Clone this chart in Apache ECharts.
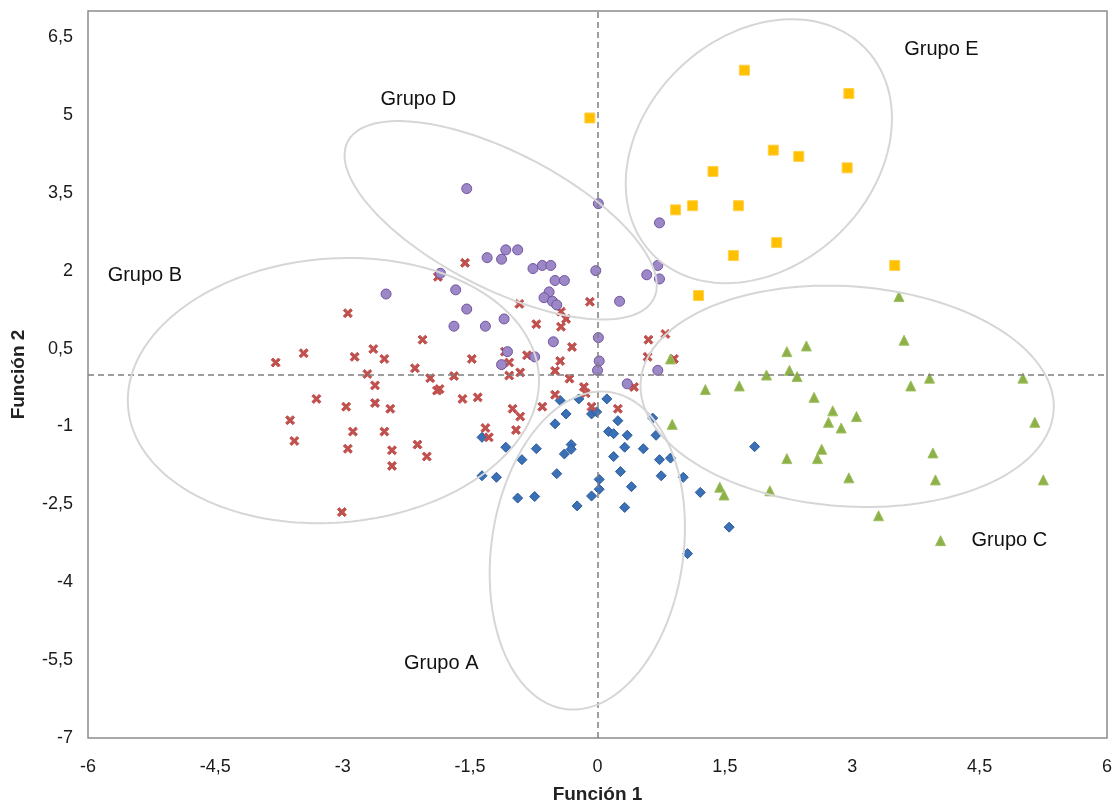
<!DOCTYPE html>
<html>
<head>
<meta charset="utf-8">
<script src="https://cdn.jsdelivr.net/npm/echarts@6/dist/echarts.min.js"></script>
<style>
html, body { margin: 0; padding: 0; background: #fff; }
#chart { width: 1113px; height: 803px; }
</style>
</head>
<body>
<div id="chart"></div>
<script>
// discriminant scores per group [Función 1, Función 2]
var grupoA = [
    [-0.44,-0.50],[-0.22,-0.47],[-0.37,-0.76],[-0.07,-0.76],[-0.01,-0.72],[-0.50,-0.95],
    [-1.36,-1.21],[-1.08,-1.40],[-0.72,-1.43],[-0.31,-1.35],[-0.31,-1.44],[-0.39,-1.53],
    [-0.89,-1.64],[-0.48,-1.91],[-1.36,-1.95],[-1.19,-1.98],[-0.94,-2.38],[-0.74,-2.35],
    [-0.24,-2.53],[-0.07,-2.34],[0.02,-2.02],[0.02,-2.21],[0.11,-0.47],[0.24,-0.89],
    [0.13,-1.10],[0.19,-1.14],[0.35,-1.17],[0.69,-1.17],[0.65,-0.84],[0.32,-1.40],
    [0.54,-1.43],[0.19,-1.58],[0.73,-1.64],[0.86,-1.61],[0.27,-1.87],[0.75,-1.95],
    [1.01,-1.98],[0.40,-2.16],[0.32,-2.56],[1.21,-2.27],[1.55,-2.94],[1.06,-3.45],
    [1.85,-1.39]
];
var grupoB = [
    [-3.79,0.23],[-3.46,0.41],[-2.94,1.18],[-3.62,-0.88],[-3.57,-1.28],[-3.31,-0.47],
    [-3.01,-2.65],[-2.96,-0.62],[-2.88,-1.10],[-2.94,-1.43],[-2.86,0.34],[-2.64,0.49],
    [-2.51,0.30],[-2.71,0.01],[-2.62,-0.21],[-2.62,-0.55],[-2.51,-1.10],[-2.44,-0.66],
    [-2.42,-1.46],[-2.42,-1.76],[-2.15,0.12],[-2.12,-1.35],[-2.01,-1.58],[-2.06,0.67],
    [-1.97,-0.07],[-1.89,-0.31],[-1.86,-0.28],[-1.88,1.88],[-1.69,-0.03],[-1.56,2.15],
    [-1.59,-0.47],[-1.41,-0.44],[-1.48,0.30],[-1.32,-1.03],[-1.28,-1.21],[-1.09,0.44],
    [-1.04,0.23],[-1.04,-0.02],[-1.00,-0.66],[-0.96,-1.07],[-0.91,-0.81],[-0.92,1.36],
    [-0.91,0.04],[-0.83,0.37],[-0.72,0.97],[-0.65,-0.62],[-0.50,0.07],[-0.50,-0.39],
    [-0.43,1.21],[-0.37,1.07],[-0.43,0.92],[-0.44,0.26],[-0.30,0.53],[-0.33,-0.08],
    [-0.16,-0.24],[-0.14,-0.36],[-0.09,1.40],[-0.07,-0.62],[0.24,-0.66],[0.43,-0.24],
    [0.60,0.67],[0.80,0.78],[0.59,0.34],[0.90,0.30]
];
var grupoC = [
    [3.55,1.50],[3.61,0.66],[2.23,0.44],[2.46,0.55],[1.99,-0.01],[2.26,0.08],
    [2.35,-0.04],[1.27,-0.29],[1.67,-0.22],[3.69,-0.22],[3.91,-0.07],[5.01,-0.07],
    [2.55,-0.44],[2.77,-0.70],[3.05,-0.81],[2.72,-0.92],[2.87,-1.03],[5.15,-0.92],
    [2.64,-1.44],[2.23,-1.62],[2.59,-1.62],[3.95,-1.51],[2.96,-1.99],[3.98,-2.03],
    [5.25,-2.03],[1.44,-2.17],[1.49,-2.32],[2.03,-2.24],[3.31,-2.72],[4.04,-3.20],
    [0.88,-0.96],[0.86,0.30]
];
var grupoD = [
    [-2.49,1.55],[-1.85,1.95],[-1.67,1.63],[-1.69,0.93],[-1.54,3.58],[0.01,3.29],
    [-1.08,2.40],[-0.94,2.40],[-1.30,2.25],[-1.13,2.22],[-0.76,2.04],[-0.65,2.10],
    [-0.55,2.10],[-0.02,2.00],[-0.50,1.81],[-0.39,1.81],[-0.57,1.59],[-0.63,1.48],
    [-0.53,1.41],[-0.48,1.34],[-1.54,1.26],[-1.10,1.07],[-1.32,0.93],[-0.52,0.63],
    [0.01,0.71],[-1.06,0.44],[-0.74,0.34],[-1.13,0.19],[0.02,0.26],[0.73,2.92],
    [0.71,2.10],[0.58,1.92],[0.73,1.84],[0.26,1.41],[0.71,0.08],[0.35,-0.18],
    [0.00,0.08]
];
var grupoE = [
    [1.73,5.86],[2.96,5.41],[-0.09,4.94],[2.07,4.32],[2.37,4.20],[2.94,3.98],
    [1.36,3.91],[0.92,3.17],[1.12,3.25],[1.66,3.25],[2.11,2.54],[1.60,2.29],
    [3.50,2.10],[1.19,1.52]
];

var groupNames = ['Grupo A', 'Grupo B', 'Grupo C', 'Grupo D', 'Grupo E'];
var groupCenters = [[-0.12,-3.39],[-3.11,-0.31],[2.94,-0.42],[-1.14,2.97],[1.90,4.30]];
var groupLabelAt = [[-1.84,-5.56],[-5.33,1.90],[4.85,-3.19],[-2.11,5.29],[4.05,6.26]];

// ellipse outlines in px: half width, half height, rotation (deg)
var ellipseShape = [[96,160,8],[206,132,-4.6],[207,110,4],[172,68,27.2],[148,115,-44]];

var FONT = '"Liberation Sans", Arial, sans-serif';

function comma(v) {
    return String(v).replace('.', ',');
}

function renderGroup(params, api) {
    var i = params.dataIndex;
    var c = api.coord([api.value(0), api.value(1)]);
    var s = ellipseShape[i];
    var r = s[2] * Math.PI / 180;
    var pts = [];
    for (var k = 0; k < 160; k++) {
        var t = k / 160 * 2 * Math.PI;
        var ex = s[0] * Math.cos(t), ey = s[1] * Math.sin(t);
        pts.push([c[0] + ex * Math.cos(r) - ey * Math.sin(r),
                  c[1] + ex * Math.sin(r) + ey * Math.cos(r)]);
    }
    var lp = api.coord(groupLabelAt[i]);
    return {
        type: 'group',
        children: [
            {type: 'polygon', shape: {points: pts},
             style: {fill: 'none', stroke: '#d6d6d6', lineWidth: 2}},
            {type: 'text', x: lp[0], y: lp[1],
             style: {text: groupNames[i], font: '20px ' + FONT, fill: '#111',
                     textAlign: 'center', textVerticalAlign: 'middle'}}
        ]
    };
}

function pts(name, data, symbol, size, color, border) {
    return {
        type: 'scatter',
        name: name,
        data: data,
        symbol: symbol,
        symbolSize: size,
        z: 2,
        itemStyle: {color: color, borderColor: border, borderWidth: 1, opacity: 1}
    };
}

var myChart = echarts.init(document.getElementById('chart'));
var option = {
    backgroundColor: '#fff',
    animation: false,
    grid: {
        left: 88,
        right: 6,
        top: 11,
        bottom: 65,
        outerBoundsMode: 'none',
        show: true,
        borderColor: '#8c8c8c',
        borderWidth: 1.5
    },
    xAxis: {
        type: 'value',
        min: -6,
        max: 6,
        interval: 1.5,
        name: 'Función 1',
        nameLocation: 'middle',
        nameGap: 47,
        nameTextStyle: {fontFamily: FONT, fontSize: 19, fontWeight: 'bold', color: '#222'},
        axisLine: {show: false},
        axisTick: {show: false},
        splitLine: {show: false},
        axisLabel: {
            margin: 20,
            fontFamily: FONT,
            fontSize: 18,
            color: '#1a1a1a',
            formatter: comma
        }
    },
    yAxis: {
        type: 'value',
        min: -7,
        max: 7,
        interval: 1.5,
        name: 'Función 2',
        nameLocation: 'middle',
        nameGap: 60,
        nameTextStyle: {fontFamily: FONT, fontSize: 19, fontWeight: 'bold', color: '#222'},
        axisLine: {show: false},
        axisTick: {show: false},
        splitLine: {show: false},
        axisLabel: {
            margin: 15,
            fontFamily: FONT,
            fontSize: 18,
            color: '#1a1a1a',
            formatter: function (v) { return v === 7 ? '' : comma(v); }
        }
    },
    series: [
        pts('Grupo A', grupoA, 'diamond', 10, '#3a70b6', '#2c5c9c'),
        pts('Grupo B', grupoB,
            'path://M2,0 L5,3 L8,0 L10,2 L7,5 L10,8 L8,10 L5,7 L2,10 L0,8 L3,5 L0,2 Z',
            9, '#c0504d', '#c0504d'),
        pts('Grupo C', grupoC, 'triangle', 10, '#8db048', '#9fc060'),
        pts('Grupo D', grupoD, 'circle', 10, '#9c88c6', '#7254a2'),
        pts('Grupo E', grupoE, 'rect', 10, '#ffc000', '#ffd04a'),
        {
            type: 'scatter',
            data: [],
            silent: true,
            markLine: {
                silent: true,
                symbol: 'none',
                label: {show: false},
                lineStyle: {color: '#7f7f7f', type: [6, 4], width: 1.5},
                data: [{xAxis: 0}, {yAxis: 0}]
            }
        },
        {
            type: 'custom',
            silent: true,
            z: 5,
            data: groupCenters,
            renderItem: renderGroup
        }
    ]
};
myChart.setOption(option);
</script>
</body>
</html>
